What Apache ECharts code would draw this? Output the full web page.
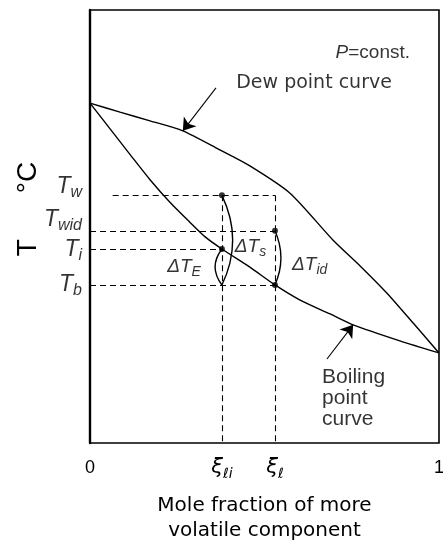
<!DOCTYPE html>
<html>
<head>
<meta charset="utf-8">
<script src="https://cdn.jsdelivr.net/npm/echarts@6/dist/echarts.min.js"></script>
<style>
  html, body { margin: 0; padding: 0; background: #fff; }
  #chart { width: 443px; height: 543px; }
</style>
</head>
<body>
<div id="chart"></div>
<script>
// Binary mixture at constant pressure: dew point and boiling point curves
const dewX  = [0, 0.086, 0.172, 0.266, 0.372, 0.458, 0.573, 0.696, 0.774, 0.851, 0.926, 1];
const dewT  = [78.5, 76.4, 74.4, 72.1, 67.7, 64.0, 57.7, 46.9, 40.9, 34.6, 27.7, 20.8];
const boilX = [0, 0.057, 0.115, 0.172, 0.229, 0.286, 0.33, 0.378, 0.458, 0.530, 0.602, 0.688, 0.754, 0.888, 1];
const boilT = [78.5, 72.6, 66.6, 60.8, 55.6, 51.0, 47.6, 44.8, 40.6, 36.5, 33.0, 29.8, 27.3, 23.6, 20.8];

// Characteristic liquid compositions and temperatures
const xiLi = 0.378, xiL = 0.530;
const T_w = 57.2, T_wid = 49.0, T_i = 44.8, T_b = 36.5;
const guideStartX = 0.065;

// Tick labels
const xTickValues = [0, xiLi, xiL, 1];
const xTickLabels = ['{n|0}', '{g|ξ}{sub|ℓi}', '{g|ξ}{sub|ℓ}', '{n|1}'];
const yTickValues = [T_w, T_wid, T_i, T_b];
const yTickLabels = ['{t|T}{s|w}', '{t|T}{s|wid}', '{t|T}{s|i}', '{t|T}{s|b}'];
const yTickMarks = [T_wid, T_i, T_b];
// vertical nudge of each temperature label relative to its level (px)
const yLabelNudge = [-9, -11, 1, 0];

// Annotation texts
const noteTexts = {
  pressure: '{p|P}{n|=const.}',
  dew: 'Dew point curve',
  boil: 'Boiling\npoint\ncurve',
  dTs: '{d|ΔT}{ds|s}',
  dTid: '{d|ΔT}{ds|id}',
  dTE: '{d|ΔT}{ds|E}'
};
const xName = 'Mole fraction of more\nvolatile component';

const pairs = (xs, ys) => xs.map((x, i) => [x, ys[i]]);
const labelFor = (values, labels) => v => {
  const i = values.findIndex(u => Math.abs(u - v) < 1e-6);
  return i < 0 ? '' : labels[i];
};
const ink = '#000';
const sans = 'Liberation Sans';
const wide = 'DejaVu Sans';

const chart = echarts.init(document.getElementById('chart'), null, { renderer: 'canvas' });

chart.setOption({
  animation: false,
  backgroundColor: '#fff',
  grid: {
    left: 90, top: 10, right: 4, bottom: 100,
    containLabel: false,
    outerBoundsMode: 'none',
    show: true, borderColor: ink, borderWidth: 1.6
  },
  xAxis: {
    type: 'value', min: 0, max: 1,
    axisLine: { show: false },
    axisTick: { show: false },
    splitLine: { show: false },
    axisLabel: {
      customValues: xTickValues,
      hideOverlap: false,
      margin: 12,
      formatter: labelFor(xTickValues, xTickLabels),
      rich: {
        n: { fontFamily: sans, fontSize: 18, color: ink, lineHeight: 26 },
        g: { fontFamily: wide, fontStyle: 'italic', fontSize: 21, color: ink, lineHeight: 26 },
        sub: { fontFamily: wide, fontStyle: 'italic', fontSize: 14, color: ink, lineHeight: 14, verticalAlign: 'bottom' }
      }
    },
    name: xName,
    nameLocation: 'middle',
    nameGap: 50,
    nameMoveOverlap: false,
    nameTextStyle: { fontFamily: wide, fontSize: 20, lineHeight: 25, color: ink }
  },
  yAxis: {
    type: 'value', min: 0, max: 100,
    axisLine: { show: true, lineStyle: { color: ink, width: 2.4 } },
    axisTick: { show: true, inside: true, length: 4, customValues: yTickMarks, lineStyle: { color: ink, width: 1 } },
    splitLine: { show: false },
    axisLabel: { show: false },
    name: '{a|T}{gap|}{b|°C}',
    nameLocation: 'middle',
    nameRotate: 90,
    nameGap: 48,
    nameMoveOverlap: false,
    nameTextStyle: {
      padding: [0, 0, 0, 35],
      rich: {
        a: { fontFamily: sans, fontSize: 28, color: ink },
        gap: { width: 46 },
        b: { fontFamily: sans, fontSize: 28, color: ink }
      }
    }
  },
  series: [
    {
      name: 'Dew point curve', type: 'line',
      data: pairs(dewX, dewT), smooth: 0.25, symbol: 'none',
      lineStyle: { color: ink, width: 1.4 }, z: 3
    },
    {
      name: 'Boiling point curve', type: 'line',
      data: pairs(boilX, boilT), smooth: 0.25, symbol: 'none',
      lineStyle: { color: ink, width: 1.4 }, z: 3
    },
    {
      // dashed construction lines
      name: 'guides', type: 'lines', coordinateSystem: 'cartesian2d',
      lineStyle: { color: ink, width: 1.1, type: [6, 4], opacity: 1 },
      data: [
        { coords: [[guideStartX, T_w], [xiL, T_w]] },
        { coords: [[0, T_wid], [xiL, T_wid]] },
        { coords: [[0, T_i], [xiLi, T_i]] },
        { coords: [[0, T_b], [xiL, T_b]] },
        { coords: [[xiLi, T_w], [xiLi, 0]] },
        { coords: [[xiL, T_w], [xiL, 0]] }
      ],
      z: 2
    },
    {
      // curved brackets marking the temperature differences
      name: 'spans', type: 'lines', coordinateSystem: 'cartesian2d',
      lineStyle: { color: ink, width: 1.4, opacity: 1 },
      data: [
        { coords: [[xiLi, T_w], [xiLi, T_b]], lineStyle: { curveness: 0.24 } },
        { coords: [[xiLi, T_i], [xiLi, T_b]], lineStyle: { curveness: -0.38 } },
        { coords: [[xiL, T_wid], [xiL, T_b]], lineStyle: { curveness: 0.22 } }
      ],
      z: 4
    },
    {
      name: 'pointers', type: 'lines', coordinateSystem: 'cartesian2d',
      symbol: ['none', 'arrow'], symbolSize: [7, 12],
      lineStyle: { color: ink, width: 1.1, opacity: 1 },
      itemStyle: { color: ink },
      data: [
        { coords: [[0.361, 82.0], [dewX[3], dewT[3]]] },
        { coords: [[0.679, 19.4], [boilX[12], boilT[12]]] }
      ],
      z: 5
    },
    {
      name: 'state points', type: 'scatter',
      symbol: 'circle', symbolSize: 6,
      itemStyle: { color: ink },
      data: [[xiLi, T_w], [xiLi, T_i], [xiL, T_wid], [xiL, T_b]],
      z: 6
    },
    {
      // temperature level labels along the T axis
      name: 'temperature labels', type: 'scatter', symbolSize: 0, silent: true, clip: false,
      label: {
        show: true, position: 'left', distance: 8, align: 'right', verticalAlign: 'middle',
        rich: {
          t: { fontFamily: sans, fontStyle: 'italic', fontSize: 23, color: ink, lineHeight: 28 },
          s: { fontFamily: sans, fontStyle: 'italic', fontSize: 16, color: ink, lineHeight: 16, verticalAlign: 'bottom' }
        }
      },
      data: yTickValues.map((v, i) => ({
        value: [0, v],
        label: { formatter: yTickLabels[i], offset: [0, yLabelNudge[i]] }
      })),
      z: 7
    },
    {
      name: 'notes', type: 'scatter', symbolSize: 0, silent: true,
      label: {
        show: true, position: 'inside', verticalAlign: 'middle', color: ink,
        rich: {
          p: { fontFamily: sans, fontStyle: 'italic', fontSize: 19, color: ink },
          n: { fontFamily: sans, fontSize: 19, color: ink },
          d: { fontFamily: sans, fontStyle: 'italic', fontSize: 19, color: ink, lineHeight: 24 },
          ds: { fontFamily: sans, fontStyle: 'italic', fontSize: 14, color: ink, lineHeight: 14, verticalAlign: 'bottom' }
        }
      },
      data: [
        { value: [0.917, 90.1], label: { formatter: noteTexts.pressure, align: 'right' } },
        { value: [0.642, 83.1], label: { formatter: noteTexts.dew, align: 'center', fontFamily: wide, fontSize: 19, color: ink } },
        { value: [0.665, 10.4], label: { formatter: noteTexts.boil, align: 'left', fontFamily: sans, fontSize: 21, lineHeight: 21, color: ink } },
        { value: [0.415, 45.3], label: { formatter: noteTexts.dTs, align: 'left' } },
        { value: [0.579, 41.1], label: { formatter: noteTexts.dTid, align: 'left' } },
        { value: [0.221, 40.6], label: { formatter: noteTexts.dTE, align: 'left' } }
      ],
      z: 7
    }
  ]
});
</script>
</body>
</html>
